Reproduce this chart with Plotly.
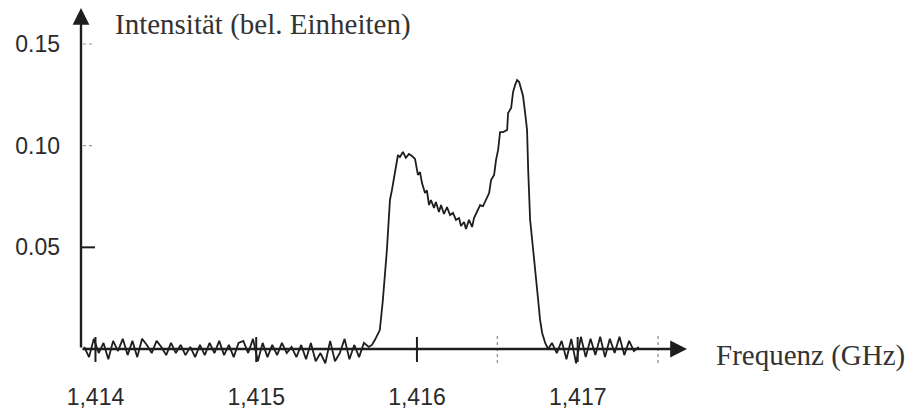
import plotly.graph_objects as go

# ---- data (frequency in GHz, intensity in arbitrary units) ----
base_left_f = [1.41393, 1.41396, 1.41399, 1.41402, 1.41405, 1.41408, 1.41411, 1.41414, 1.41417, 1.41420,
               1.41423, 1.41426, 1.41429, 1.41432, 1.41435, 1.41438, 1.41441, 1.41444, 1.41447, 1.41450,
               1.41453, 1.41456, 1.41459, 1.41462, 1.41465, 1.41468, 1.41471, 1.41474, 1.41477, 1.41480,
               1.41483, 1.41486, 1.41489, 1.41492, 1.41495, 1.41498, 1.41501, 1.41504, 1.41507, 1.41510,
               1.41513, 1.41516, 1.41519, 1.41522, 1.41525, 1.41528, 1.41531, 1.41534, 1.41537, 1.41540,
               1.41543, 1.41546, 1.41549, 1.41552, 1.41555, 1.41558, 1.41561, 1.41564, 1.41567, 1.41570]
base_left_i = [0.001, -0.004, 0.005, -0.002, 0.003, -0.005, 0.004, -0.001, 0.005, -0.003,
               0.004, -0.004, 0.005, 0.002, -0.002, 0.004, 0.001, -0.003, 0.003, -0.002,
               0.002, -0.003, 0.001, -0.004, 0.002, -0.003, 0.003, -0.002, 0.004, -0.003,
               0.002, -0.004, 0.003, 0.004, -0.002, 0.005, -0.006, 0.003, -0.004, 0.002,
               -0.003, 0.003, -0.002, 0.001, -0.004, 0.002, -0.005, 0.003, -0.006, -0.002,
               -0.007, 0.004, -0.006, -0.002, 0.005, -0.005, 0.002, -0.004, 0.003, 0.001]

band_f = [1.415720, 1.415738, 1.415769, 1.415788, 1.415813, 1.415832, 1.415844, 1.415863, 1.415882, 1.415894,
          1.415913, 1.415931, 1.415950, 1.415969, 1.415988, 1.416006, 1.416019, 1.416031, 1.416050, 1.416062,
          1.416075, 1.416087, 1.416106, 1.416118, 1.416137, 1.416150, 1.416168, 1.416187, 1.416206, 1.416224,
          1.416243, 1.416262, 1.416274, 1.416293, 1.416305, 1.416324, 1.416343, 1.416355, 1.416374, 1.416393,
          1.416411, 1.416430, 1.416449, 1.416461, 1.416480, 1.416492, 1.416505, 1.416517, 1.416536, 1.416561,
          1.416567, 1.416586, 1.416598, 1.416611, 1.416623, 1.416636, 1.416648, 1.416660, 1.416673, 1.416685,
          1.416692, 1.416704, 1.416723, 1.416735, 1.416754, 1.416766, 1.416779, 1.416798, 1.416816]
band_i = [0.0020, 0.0044, 0.0093, 0.0240, 0.0487, 0.0733, 0.0780, 0.0866, 0.0954, 0.0944,
          0.0969, 0.0940, 0.0959, 0.0949, 0.0935, 0.0856, 0.0870, 0.0817, 0.0767, 0.0780,
          0.0708, 0.0733, 0.0694, 0.0723, 0.0674, 0.0708, 0.0664, 0.0698, 0.0659, 0.0669,
          0.0635, 0.0644, 0.0605, 0.0625, 0.0590, 0.0635, 0.0600, 0.0644, 0.0674, 0.0708,
          0.0703, 0.0738, 0.0767, 0.0831, 0.0856, 0.0930, 0.0979, 0.1067, 0.1067, 0.1077,
          0.1161, 0.1185, 0.1264, 0.1299, 0.1323, 0.1313, 0.1284, 0.1244, 0.1161, 0.1077,
          0.0880, 0.0635, 0.0487, 0.0403, 0.0241, 0.0143, 0.0079, 0.0030, 0.0000]

base_right_f = [1.41684, 1.41687, 1.41690, 1.41693, 1.41696, 1.41699, 1.41702, 1.41705, 1.41708, 1.41711,
                1.41714, 1.41717, 1.41720, 1.41723, 1.41726, 1.41729, 1.41732, 1.41735, 1.41738]
base_right_i = [0.003, -0.002, 0.004, -0.005, 0.005, -0.007, 0.006, -0.004, 0.005, -0.003,
                0.006, -0.004, 0.005, -0.002, 0.006, -0.003, 0.004, -0.001, 0.001]

x_tick_vals = [1.414, 1.415, 1.416, 1.417]
x_tick_text = ["1,414", "1,415", "1,416", "1,417"]
x_half_ticks = [1.4165, 1.4175]
y_tick_vals = [0.05, 0.10, 0.15]
y_tick_text = ["0.05", "0.10", "0.15"]

y_axis_title = "Intensität (bel. Einheiten)"
x_axis_title = "Frequenz (GHz)"

# ---- ranges ----
X0, X1 = 1.41391, 1.41768
Y0, Y1 = -0.0118, 0.1677

freq = base_left_f + band_f + base_right_f
inten = base_left_i + band_i + base_right_i

ink = "#1e1e1e"

fig = go.Figure()
fig.add_trace(go.Scatter(x=freq, y=inten, mode="lines",
                         line=dict(color=ink, width=1.8),
                         showlegend=False, hoverinfo="skip"))

# axis arrows
fig.add_annotation(x=X1, y=0, ax=X0, ay=0, xref="x", yref="y", axref="x", ayref="y",
                   text="", showarrow=True, arrowhead=2, arrowsize=1.4, arrowwidth=2.4,
                   arrowcolor=ink)
fig.add_annotation(x=X0, y=Y1, ax=X0, ay=0, xref="x", yref="y", axref="x", ayref="y",
                   text="", showarrow=True, arrowhead=2, arrowsize=1.4, arrowwidth=2.4,
                   arrowcolor=ink)

# tick marks crossing the axes
for v in x_tick_vals:
    fig.add_shape(type="line", xref="x", yref="y", x0=v, x1=v, ysizemode="pixel",
                  yanchor=0, y0=-13, y1=12, line=dict(color=ink, width=2))
for v in x_half_ticks:
    fig.add_shape(type="line", xref="x", yref="y", x0=v, x1=v, ysizemode="pixel",
                  yanchor=0, y0=-14, y1=13, line=dict(color="#888888", width=1.2, dash="dot"))
for v in y_tick_vals:
    solid = abs(v - 0.05) < 1e-9
    fig.add_shape(type="line", xref="x", yref="y", y0=v, y1=v, xsizemode="pixel",
                  xanchor=X0, x0=-4, x1=14,
                  line=dict(color=ink if solid else "#999999", width=2 if solid else 1.2,
                            dash="solid" if solid else "dot"))

# axis titles
fig.add_annotation(x=0.053, y=1.0, xref="paper", yref="paper", xanchor="left", yanchor="top",
                   yshift=2, text=y_axis_title, showarrow=False,
                   font=dict(family="Liberation Serif", size=29, color="#333333"))
fig.add_annotation(x=1.045, y=0, xref="paper", yref="y", xanchor="left", yanchor="middle",
                   yshift=-6, text=x_axis_title, showarrow=False,
                   font=dict(family="Liberation Serif", size=29, color="#333333"))

fig.update_xaxes(range=[X0, X1], showgrid=False, zeroline=False, showline=False, automargin=False,
                 tickvals=x_tick_vals, ticktext=x_tick_text, ticks="", ticklabelstandoff=8,
                 tickfont=dict(family="Liberation Sans", size=23, color="#2a2a2a"))
fig.update_yaxes(range=[Y0, Y1], showgrid=False, zeroline=False, showline=False, automargin=False,
                 tickvals=y_tick_vals, ticktext=y_tick_text, ticks="", ticklabelstandoff=20,
                 tickfont=dict(family="Liberation Sans", size=23, color="#2a2a2a"))

# page body has an 8px margin, so the figure is 8px smaller and offsets are reduced by 8
fig.update_layout(width=910, height=402, margin=dict(l=73, r=231, t=0, b=37, autoexpand=False),
                  plot_bgcolor="white", paper_bgcolor="white")

fig.write_html("out.html")
